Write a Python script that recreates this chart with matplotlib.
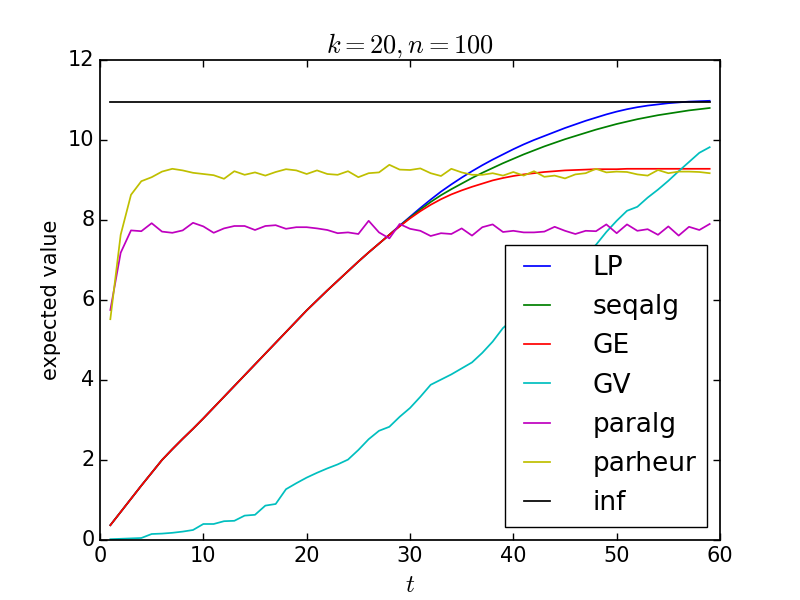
import numpy as np
import matplotlib
matplotlib.use("Agg")
import matplotlib.pyplot as plt

t = list(range(1, 60))

lp = [0.37, 0.70, 1.03, 1.36, 1.68, 2.00, 2.27, 2.53, 2.78, 3.04,
      3.31, 3.58, 3.85, 4.12, 4.39, 4.66, 4.93, 5.20, 5.47, 5.74,
      5.99, 6.24, 6.48, 6.72, 6.96, 7.19, 7.41, 7.63, 7.86, 8.08,
      8.30, 8.51, 8.71, 8.89, 9.06, 9.22, 9.37, 9.51, 9.64, 9.77,
      9.89, 10.00, 10.10, 10.20, 10.30, 10.39, 10.48, 10.56, 10.64, 10.71,
      10.77, 10.82, 10.86, 10.89, 10.92, 10.94, 10.96, 10.97, 10.98]

seqalg = [0.37, 0.70, 1.03, 1.36, 1.68, 2.00, 2.27, 2.53, 2.78, 3.04,
          3.31, 3.58, 3.85, 4.12, 4.39, 4.66, 4.93, 5.20, 5.47, 5.74,
          5.99, 6.24, 6.48, 6.72, 6.96, 7.19, 7.41, 7.63, 7.85, 8.06,
          8.26, 8.45, 8.62, 8.77, 8.91, 9.05, 9.18, 9.30, 9.42, 9.53,
          9.64, 9.74, 9.84, 9.93, 10.02, 10.10, 10.18, 10.26, 10.33, 10.40,
          10.46, 10.52, 10.57, 10.62, 10.66, 10.70, 10.74, 10.77, 10.80]

ge = [0.37, 0.70, 1.03, 1.36, 1.68, 2.00, 2.27, 2.53, 2.78, 3.04,
      3.31, 3.58, 3.85, 4.12, 4.39, 4.66, 4.93, 5.20, 5.47, 5.74,
      5.99, 6.24, 6.48, 6.72, 6.96, 7.19, 7.41, 7.63, 7.84, 8.04,
      8.22, 8.38, 8.52, 8.64, 8.74, 8.83, 8.91, 8.99, 9.05, 9.10,
      9.14, 9.17, 9.20, 9.22, 9.24, 9.25, 9.26, 9.27, 9.27, 9.27,
      9.28, 9.28, 9.28, 9.28, 9.28, 9.28, 9.28, 9.28, 9.28]

gv = [0.02, 0.03, 0.04, 0.05, 0.15, 0.16, 0.18, 0.21, 0.25, 0.40,
      0.40, 0.47, 0.48, 0.61, 0.63, 0.86, 0.90, 1.27, 1.42, 1.56,
      1.68, 1.79, 1.89, 2.01, 2.25, 2.52, 2.73, 2.83, 3.08, 3.30,
      3.58, 3.88, 4.01, 4.14, 4.29, 4.44, 4.68, 4.96, 5.30, 5.52,
      5.75, 5.98, 6.20, 6.44, 6.68, 6.90, 7.14, 7.38, 7.70, 7.98,
      8.23, 8.33, 8.56, 8.76, 8.98, 9.22, 9.45, 9.68, 9.82]

paralg = [5.75, 7.18, 7.74, 7.72, 7.92, 7.71, 7.68, 7.74, 7.93, 7.84,
          7.68, 7.79, 7.85, 7.85, 7.75, 7.85, 7.87, 7.78, 7.82, 7.82,
          7.79, 7.75, 7.67, 7.69, 7.65, 7.98, 7.69, 7.54, 7.90, 7.78,
          7.73, 7.60, 7.67, 7.65, 7.79, 7.61, 7.82, 7.89, 7.70, 7.73,
          7.69, 7.69, 7.71, 7.83, 7.73, 7.65, 7.73, 7.72, 7.89, 7.67,
          7.89, 7.73, 7.77, 7.63, 7.84, 7.61, 7.83, 7.75, 7.90]

parheur = [5.52, 7.63, 8.63, 8.97, 9.07, 9.21, 9.28, 9.24, 9.18, 9.15,
           9.12, 9.03, 9.22, 9.13, 9.19, 9.11, 9.20, 9.27, 9.24, 9.15,
           9.24, 9.15, 9.13, 9.22, 9.07, 9.17, 9.19, 9.38, 9.26, 9.25,
           9.29, 9.17, 9.10, 9.28, 9.19, 9.13, 9.13, 9.17, 9.11, 9.20,
           9.11, 9.22, 9.08, 9.11, 9.04, 9.14, 9.17, 9.28, 9.19, 9.21,
           9.20, 9.14, 9.11, 9.25, 9.17, 9.21, 9.21, 9.20, 9.17]

inf_val = [10.95] * len(t)

plt.style.use("classic")
plt.rcParams["font.size"] = 15
plt.rcParams["lines.linewidth"] = 1.25
plt.rcParams["axes.linewidth"] = 1.25
plt.rcParams["xtick.major.size"] = 5
plt.rcParams["ytick.major.size"] = 5
plt.rcParams["xtick.major.width"] = 1.0
plt.rcParams["ytick.major.width"] = 1.0

fig = plt.figure(figsize=(8, 6), dpi=100)
ax = fig.add_subplot(111)

ax.plot(t, lp, "b", label="LP")
ax.plot(t, seqalg, "g", label="seqalg")
ax.plot(t, ge, "r", label="GE")
ax.plot(t, gv, "c", label="GV")
ax.plot(t, paralg, "m", label="paralg")
ax.plot(t, parheur, "y", label="parheur")
ax.plot(t, inf_val, "k", label="inf")

ax.set_xlim(0, 60)
ax.set_ylim(0, 12)
ax.set_xlabel("$t$", fontsize=18)
ax.set_ylabel("expected value", fontsize=15)
ax.set_title("$k = 20, n = 100$", fontsize=19)

ax.legend(loc="lower right", fontsize=19, handlelength=1.6,
          borderpad=0.4, labelspacing=0.5, handletextpad=1.3)

fig.savefig("out.png", dpi=100)
